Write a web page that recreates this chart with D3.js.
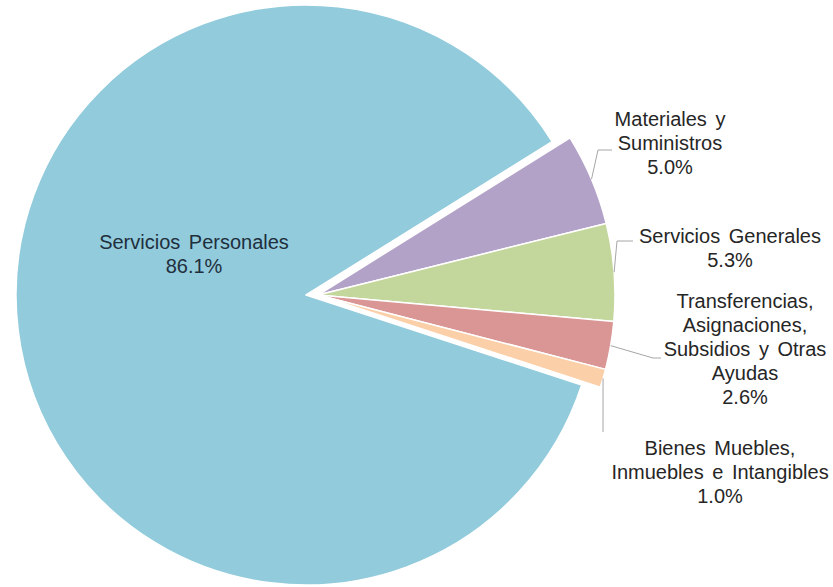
<!DOCTYPE html>
<html>
<head>
<meta charset="utf-8">
<script src="https://cdn.jsdelivr.net/npm/d3@7"></script>
<style>
  html, body { margin: 0; padding: 0; background: #ffffff; }
  svg { display: block; }
  text { font-family: "Liberation Sans", Arial, sans-serif; }
</style>
</head>
<body>
<svg id="chart" width="833" height="587"></svg>
<script>
// ---- data ----
const categories = [
  "Servicios Personales",
  "Materiales y Suministros",
  "Servicios Generales",
  "Transferencias, Asignaciones, Subsidios y Otras Ayudas",
  "Bienes Muebles, Inmuebles e Intangibles"
];
const values = [86.1, 5.0, 5.3, 2.6, 1.0];
const labelLines = [
  ["Servicios Personales"],
  ["Materiales y", "Suministros"],
  ["Servicios Generales"],
  ["Transferencias,", "Asignaciones,", "Subsidios y Otras", "Ayudas"],
  ["Bienes Muebles,", "Inmuebles e Intangibles"]
];
const colors = ["#92cbdc", "#b3a2c7", "#c3d69b", "#d99694", "#fbcfa8"];

// ---- layout ----
const W = 833, H = 587;
const bigCenter = [306, 295], bigR = 290;
const smallCenter = [318, 295], smallR = 297;
const startDeg = 108.1;
// label anchors: center x, first baseline y; leader elbow and end
const labelPos = [
  { x: 194, y: 249 },
  { x: 670, y: 126 },
  { x: 730, y: 243 },
  { x: 745, y: 308 },
  { x: 720, y: 455 }
];
const leaderPts = [
  null,
  [[598, 150], [612, 150]],
  [[617, 241], [633, 241]],
  [[653, 358], [661, 358]],
  [[603, 432]]
];
const lineH = 24;

const svg = d3.select("#chart");
const pie = d3.pie().sort(null).value(d => d)
  .startAngle(startDeg * Math.PI / 180)
  .endAngle(startDeg * Math.PI / 180 + 2 * Math.PI);
const arcs = pie(values);

const arcBig = d3.arc().innerRadius(0).outerRadius(bigR);
const arcSmall = d3.arc().innerRadius(0).outerRadius(smallR);

arcs.forEach((a, i) => {
  const c = i === 0 ? bigCenter : smallCenter;
  svg.append("path")
    .attr("transform", `translate(${c[0]},${c[1]})`)
    .attr("d", (i === 0 ? arcBig : arcSmall)(a))
    .attr("fill", colors[i])
    .attr("stroke", "#ffffff")
    .attr("stroke-width", 1.5)
    .attr("stroke-linejoin", "round");
});

// leader lines
arcs.forEach((a, i) => {
  if (!leaderPts[i]) return;
  const mid = (a.startAngle + a.endAngle) / 2;
  const p0 = [smallCenter[0] + smallR * Math.sin(mid), smallCenter[1] - smallR * Math.cos(mid)];
  const pts = [p0].concat(leaderPts[i]);
  svg.append("path")
    .attr("d", d3.line()(pts))
    .attr("fill", "none")
    .attr("stroke", "#a6a6a6")
    .attr("stroke-width", 1);
});

// labels
const fmt = d3.format(".1f");
arcs.forEach((a, i) => {
  const lines = labelLines[i].concat([fmt(values[i]) + "%"]);
  const t = svg.append("text")
    .attr("text-anchor", "middle")
    .attr("font-size", 20)
    .attr("word-spacing", 3)
    .attr("fill", i === 0 ? "#1f2f3c" : "#262626");
  lines.forEach((ln, k) => {
    t.append("tspan")
      .attr("x", labelPos[i].x)
      .attr("y", labelPos[i].y + k * lineH)
      .text(ln);
  });
});
</script>
</body>
</html>
